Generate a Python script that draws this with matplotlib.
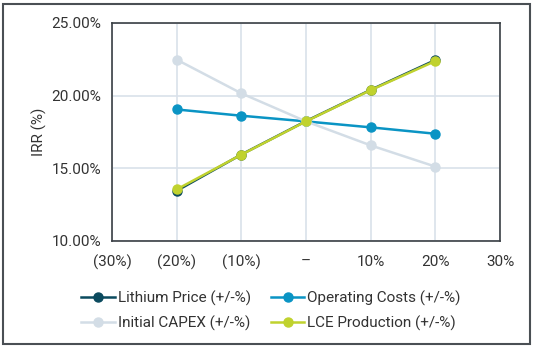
import matplotlib.pyplot as plt
from matplotlib.patches import Rectangle
from matplotlib.ticker import FuncFormatter

plt.rcParams['font.family'] = ['Roboto', 'DejaVu Sans']
plt.rcParams['font.size'] = 11

# sensitivity steps (%) and IRR (%) per driver
steps = [-20, -10, 0, 10, 20]
lithium_price = [13.45, 15.95, 18.25, 20.4, 22.45]
operating_costs = [19.05, 18.62, 18.23, 17.82, 17.38]
initial_capex = [22.48, 20.16, 18.23, 16.58, 15.12]
lce_production = [13.55, 15.94, 18.23, 20.38, 22.38]

x_ticks = [-30, -20, -10, 0, 10, 20, 30]
x_labels = ['(30%)', '(20%)', '(10%)', '–', '10%', '20%', '30%']

fig = plt.figure(figsize=(5.36, 3.48), dpi=100)
ax = fig.add_axes([112 / 536, 1 - 241 / 348, 388 / 536, 218 / 348])

series = [
    ('Lithium Price (+/-%)', lithium_price, '#0b4a5e'),
    ('Operating Costs (+/-%)', operating_costs, '#0a94c4'),
    ('Initial CAPEX (+/-%)', initial_capex, '#d3dde6'),
    ('LCE Production (+/-%)', lce_production, '#c0d22e'),
]
lines = {}
for name, vals, col in series:
    lines[name], = ax.plot(steps, vals, color=col, lw=1.8, marker='o', ms=6.5, label=name)

ax.set_xlim(-30, 30)
ax.set_ylim(10, 25)
ax.set_xticks(x_ticks)
ax.set_xticklabels(x_labels)
ax.set_yticks([10, 15, 20, 25])
ax.yaxis.set_major_formatter(FuncFormatter(lambda v, p: f'{v:.2f}%'))
ax.grid(True, color='#d9e1ea', lw=1.2)
ax.set_axisbelow(True)
ax.tick_params(length=0, pad=8, labelcolor='#333333', labelsize=11)
ax.tick_params(axis='x', pad=10)
for s in ax.spines.values():
    s.set_color('#3a3f44')
    s.set_linewidth(1.2)
ax.set_ylabel('IRR (%)', color='#333333', fontsize=11, labelpad=3)

# legend filled by column, so order gives rows: Lithium/Operating, CAPEX/LCE
order = ['Lithium Price (+/-%)', 'Initial CAPEX (+/-%)',
         'Operating Costs (+/-%)', 'LCE Production (+/-%)']
ax.legend([lines[k] for k in order], order, loc='upper center',
          bbox_to_anchor=(0.41, -0.165), ncol=2, frameon=False,
          fontsize=11, handlelength=2.2, handletextpad=0.2, columnspacing=1.3,
          labelspacing=0.6, labelcolor='#333333')

# outer frame
fig.patches.append(Rectangle((3 / 536, 4 / 348), 527 / 536, 340 / 348,
                             transform=fig.transFigure, fill=False,
                             edgecolor='#4a4f54', lw=1.5))

plt.savefig('out.png', dpi=100)
